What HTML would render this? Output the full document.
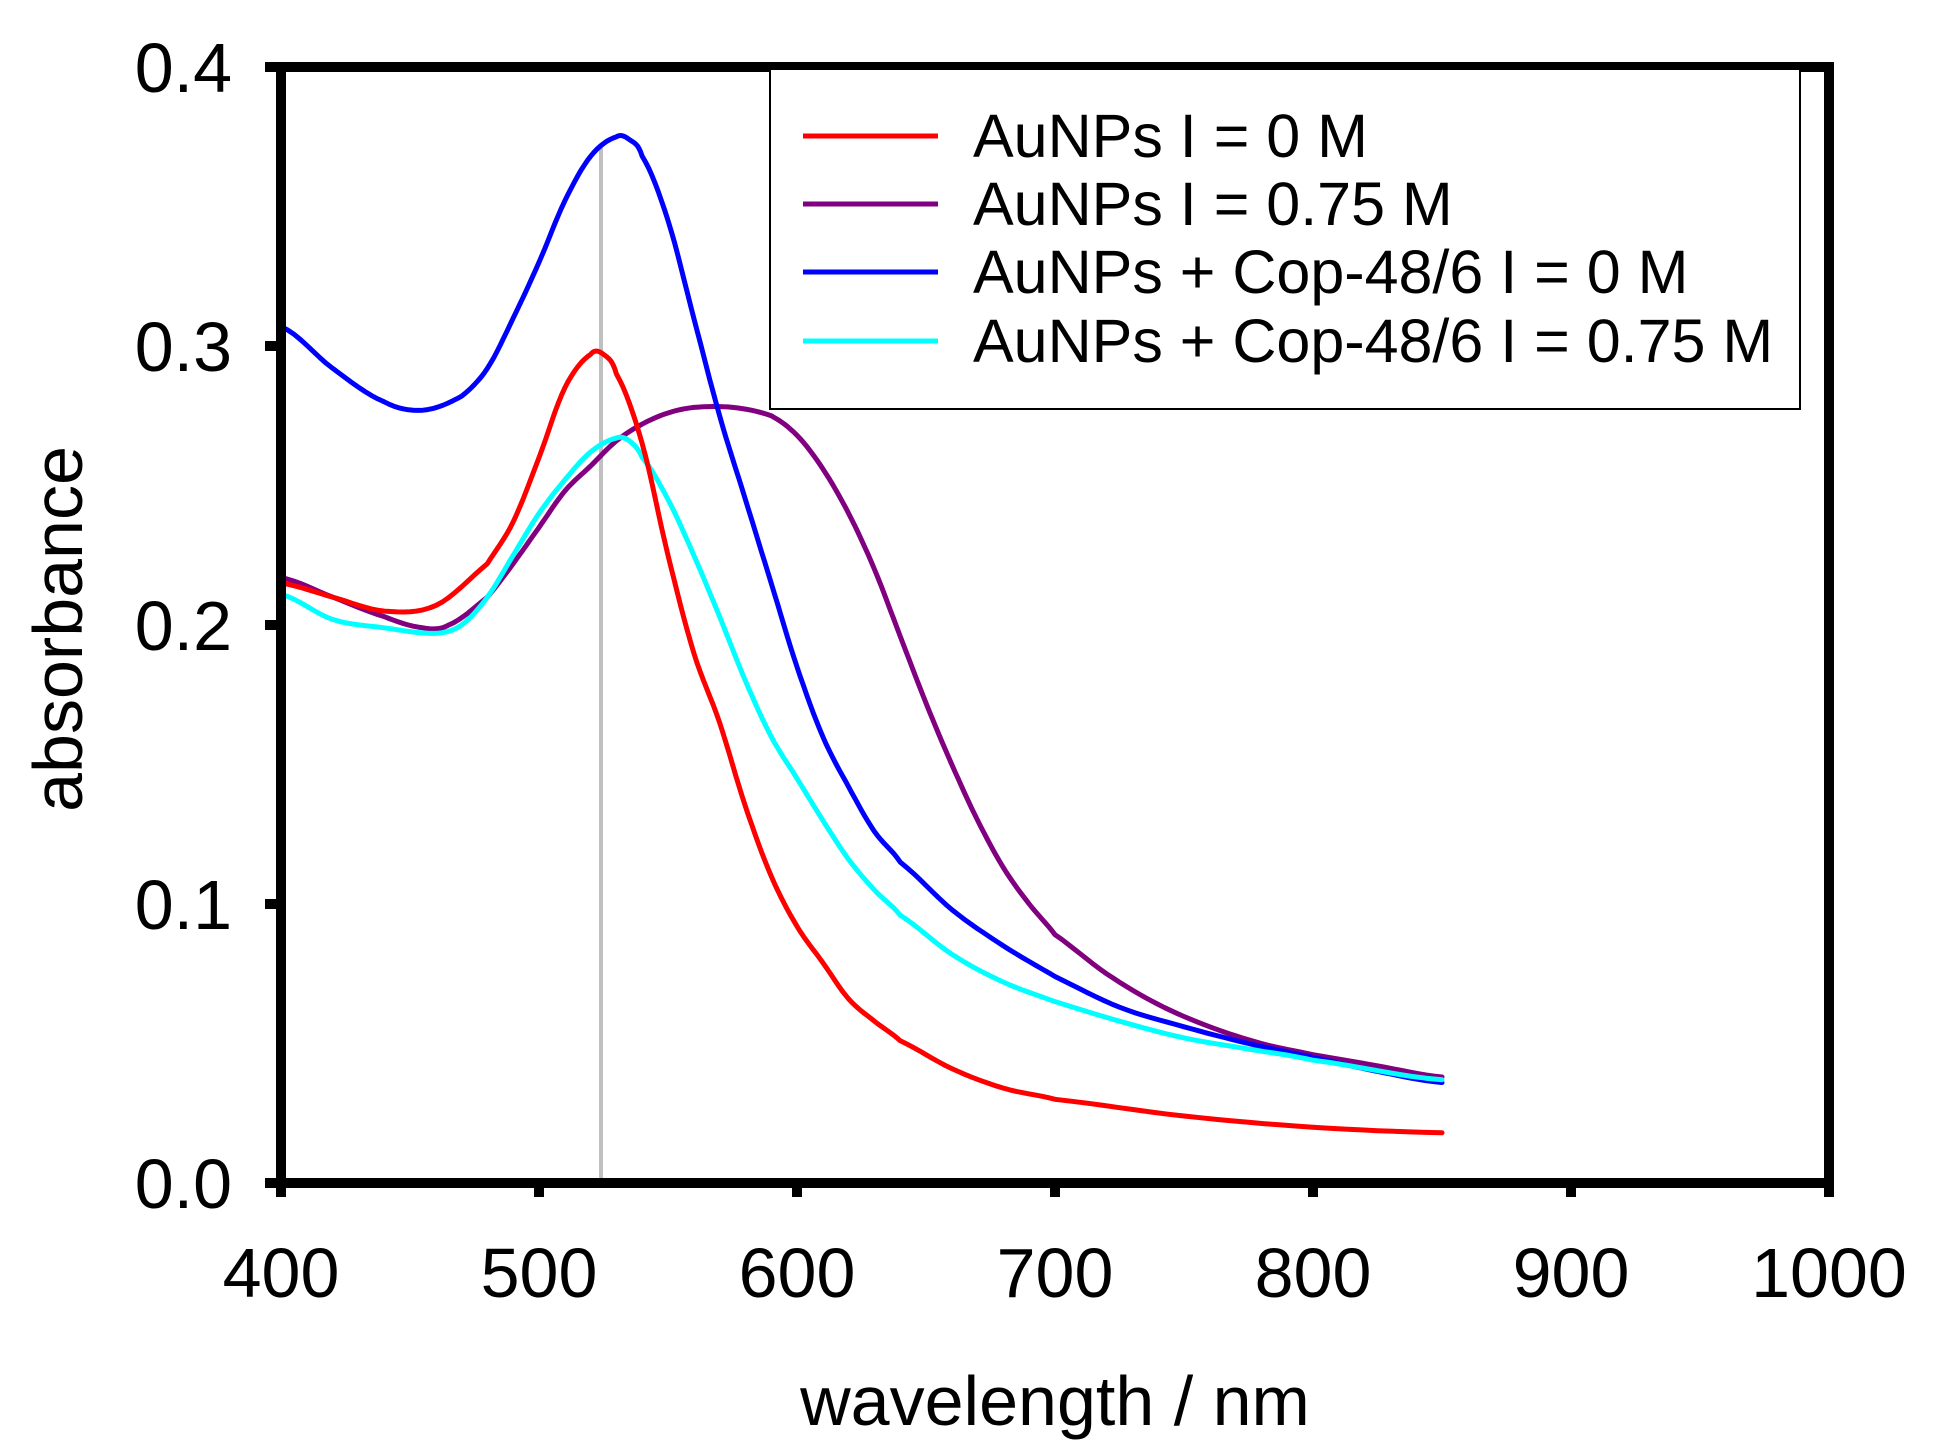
<!DOCTYPE html>
<html><head><meta charset="utf-8"><style>
html,body{margin:0;padding:0;background:#fff;}
svg{display:block;font-family:"Liberation Sans",Arial,sans-serif;}
</style></head><body>
<svg id="s" width="1952" height="1452" viewBox="0 0 1952 1452" xmlns="http://www.w3.org/2000/svg">
<rect width="1952" height="1452" fill="#fff"/>
<line x1="601" y1="148" x2="601" y2="1183" stroke="#c0c0c0" stroke-width="4"/>
<g id="curves" fill="none" stroke-width="5" stroke-linejoin="round" stroke-linecap="round"></g>
<rect x="281" y="67" width="1548" height="1116" fill="none" stroke="#000" stroke-width="10"/>
<g stroke="#000" stroke-width="10">
<line x1="265" y1="67" x2="281" y2="67"/><line x1="265" y1="346" x2="281" y2="346"/>
<line x1="265" y1="625" x2="281" y2="625"/><line x1="265" y1="904" x2="281" y2="904"/>
<line x1="265" y1="1183" x2="281" y2="1183"/>
<line x1="281" y1="1183" x2="281" y2="1197"/><line x1="539" y1="1183" x2="539" y2="1197"/>
<line x1="797" y1="1183" x2="797" y2="1197"/><line x1="1055" y1="1183" x2="1055" y2="1197"/>
<line x1="1313" y1="1183" x2="1313" y2="1197"/><line x1="1571" y1="1183" x2="1571" y2="1197"/>
<line x1="1829" y1="1183" x2="1829" y2="1197"/>
</g>
<g font-size="70" text-anchor="end" fill="#000">
<text x="232" y="92">0.4</text><text x="232" y="371">0.3</text><text x="232" y="650">0.2</text>
<text x="232" y="929">0.1</text><text x="232" y="1208">0.0</text>
</g>
<g font-size="70" text-anchor="middle" fill="#000">
<text x="281" y="1297">400</text><text x="539" y="1297">500</text><text x="797" y="1297">600</text>
<text x="1055" y="1297">700</text><text x="1313" y="1297">800</text><text x="1571" y="1297">900</text>
<text x="1829" y="1297">1000</text>
<text x="1055" y="1425">wavelength / nm</text>
<text transform="translate(82,629) rotate(-90)">absorbance</text>
</g>
<rect x="770" y="69" width="1030" height="340" fill="#fff" stroke="#000" stroke-width="2"/>
<g stroke-width="5">
<line x1="803" y1="136" x2="938" y2="136" stroke="#ff0000"/>
<line x1="803" y1="204" x2="938" y2="204" stroke="#800080"/>
<line x1="803" y1="272" x2="938" y2="272" stroke="#0000ff"/>
<line x1="803" y1="341" x2="938" y2="341" stroke="#00ffff"/>
</g>
<g font-size="61" fill="#000">
<text x="973" y="157">AuNPs I = 0 M</text>
<text x="973" y="225">AuNPs I = 0.75 M</text>
<text x="973" y="293">AuNPs + Cop-48/6 I = 0 M</text>
<text x="973" y="362">AuNPs + Cop-48/6 I = 0.75 M</text>
</g>
</svg>
<script>
var data={
"#800080":[[400,.217],[420,.21],[440,.203],[455,.199],[465,.2],[480,.21],[490,.222],[500,.235],[510,.248],[520,.257],[530,.266],[540,.272],[550,.276],[560,.278],[575,.278],[590,.275],[600,.268],[610,.256],[620,.24],[630,.22],[640,.196],[650,.172],[660,.15],[670,.13],[680,.113],[690,.1],[700,.089],[720,.075],[740,.064],[760,.056],[780,.05],[800,.046],[825,.042],[850,.038]],
"#0000ff":[[400,.307],[420,.292],[440,.28],[455,.277],[470,.282],[480,.292],[490,.31],[500,.33],[510,.352],[520,.368],[530,.375],[535,.374],[540,.368],[550,.345],[560,.31],[570,.275],[580,.245],[590,.215],[600,.185],[610,.16],[620,.142],[630,.126],[640,.115],[660,.098],[680,.085],[700,.074],[725,.063],[750,.056],[775,.05],[800,.045],[825,.04],[850,.036]],
"#00ffff":[[400,.211],[420,.202],[440,.199],[460,.197],[470,.2],[480,.21],[490,.225],[500,.24],[510,.252],[520,.262],[530,.267],[535,.266],[540,.26],[550,.245],[560,.225],[570,.203],[580,.18],[590,.16],[600,.145],[610,.13],[620,.116],[630,.105],[640,.096],[660,.082],[680,.072],[700,.065],[725,.058],[750,.052],[775,.048],[800,.044],[850,.037]],
"#ff0000":[[400,.215],[420,.21],[440,.205],[460,.207],[480,.222],[490,.237],[500,.26],[510,.285],[520,.297],[525,.297],[530,.29],[540,.265],[550,.225],[560,.19],[570,.165],[580,.135],[590,.11],[600,.092],[610,.079],[620,.066],[630,.058],[640,.051],[660,.041],[680,.034],[700,.030],[750,.024],[800,.020],[850,.018]]};
var g=document.getElementById('curves');
function X(n){return 281+(n-400)*2.58}function Y(a){return 1183-a*2790}
for(var c in data){var p=data[c],pts=[];
for(var i=0;i<p.length-1;i++){var p0=p[Math.max(0,i-1)],p1=p[i],p2=p[i+1],p3=p[Math.min(p.length-1,i+2)];
for(var t=0;t<1;t+=0.125){var t2=t*t,t3=t2*t;
var x=p1[0]+(p2[0]-p1[0])*t;
var y=0.5*((2*p1[1])+(-p0[1]+p2[1])*t+(2*p0[1]-5*p1[1]+4*p2[1]-p3[1])*t2+(-p0[1]+3*p1[1]-3*p2[1]+p3[1])*t3);
pts.push(X(x).toFixed(1)+','+Y(y).toFixed(1));}}
var l=p[p.length-1];pts.push(X(l[0])+','+Y(l[1]));
var e=document.createElementNS('http://www.w3.org/2000/svg','polyline');
e.setAttribute('points',pts.join(' '));e.setAttribute('stroke',c);g.appendChild(e);}
</script>
</body></html>
